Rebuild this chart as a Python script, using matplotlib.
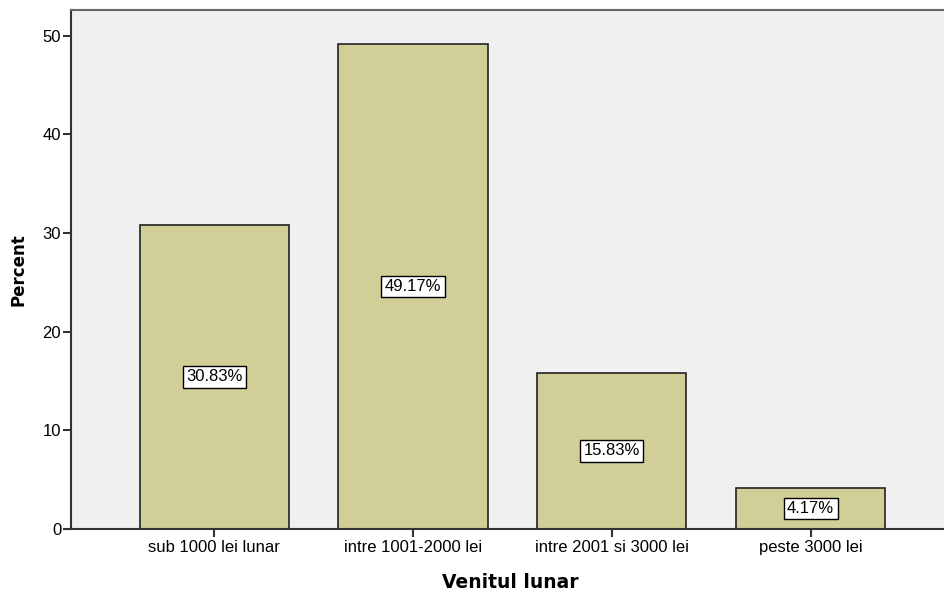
import matplotlib
matplotlib.use("Agg")
import matplotlib.pyplot as plt

# ── Data ──────────────────────────────────────────────────────────────────────
categories = ["sub 1000 lei lunar", "intre 1001-2000 lei",
              "intre 2001 si 3000 lei", "peste 3000 lei"]
percents = [30.83, 49.17, 15.83, 4.17]
y_ticks = [0, 10, 20, 30, 40, 50]

# ── Styling ───────────────────────────────────────────────────────────────────
BAR_COLOR = "#D2CE98"
PLOT_BG = "#F0F0F0"
FONT = ["Liberation Sans", "DejaVu Sans"]
plt.rcParams["font.family"] = FONT

fig = plt.figure(figsize=(9.45, 5.94), dpi=100, facecolor="white")
ax = fig.add_axes([0.0751, 0.1094, 0.93, 0.874])
ax.set_facecolor(PLOT_BG)

x = range(len(categories))
ax.bar(x, percents, width=0.75, color=BAR_COLOR, edgecolor="#222222", linewidth=1.2)

for xi, v in zip(x, percents):
    ax.text(xi, v / 2, f"{v:.2f}%", ha="center", va="center", fontsize=12,
            bbox=dict(boxstyle="square,pad=0.2", facecolor="white",
                      edgecolor="black", linewidth=1.0))

ax.set_xlim(-0.72, 3.70)
ax.set_ylim(0, 52.6)
ax.set_yticks(y_ticks)
ax.set_xticks(list(x))
ax.set_xticklabels(categories, fontsize=12)
ax.tick_params(axis="y", labelsize=12, length=6, width=1.5, pad=1, color="#333333")
ax.tick_params(axis="x", length=6, width=1.5, pad=2, color="#333333")

for side in ["left", "bottom"]:
    ax.spines[side].set_linewidth(1.5)
    ax.spines[side].set_color("#333333")
ax.spines["top"].set_linewidth(1.5)
ax.spines["top"].set_color("#666666")
ax.spines["right"].set_visible(False)

ax.set_ylabel("Percent", family="DejaVu Sans", fontsize=12, fontweight="bold", labelpad=11)
ax.set_xlabel("Venitul lunar", family="DejaVu Sans", fontsize=13.5, fontweight="bold", labelpad=13)

fig.savefig("out.png", dpi=100, facecolor="white")
